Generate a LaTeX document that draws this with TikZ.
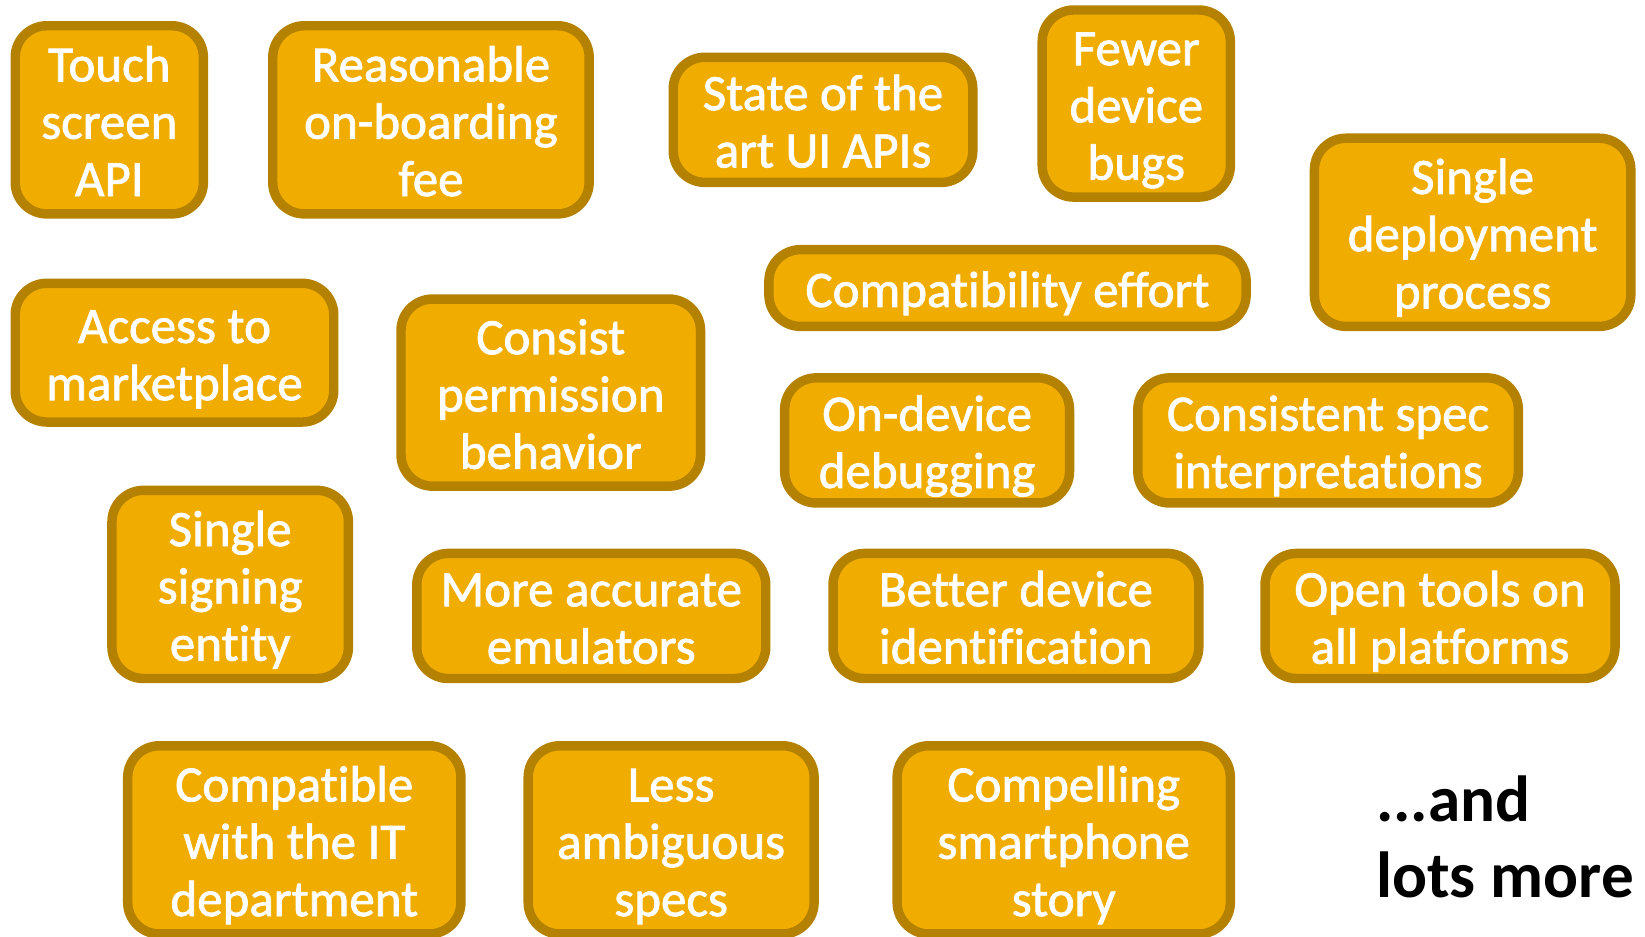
\documentclass[tikz,border=0pt]{standalone}
\usepackage{fontspec}
\setmainfont{Carlito}[Ligatures=NoCommon]
\newfontfamily\boxfont{Carlito}[Ligatures=NoCommon, FakeBold=1.5]
\definecolor{fillc}{RGB}{240,173,0}
\definecolor{bordc}{RGB}{180,130,0}
\newcommand\bt[1]{\rule{0pt}{49pt}#1\rule[-13pt]{0pt}{0pt}}
\tikzset{
  box/.style={draw=bordc, fill=fillc, line width=9pt, rounded corners=30pt,
    inner sep=0pt, align=center, text=white,
    font=\boxfont\fontsize{48.5}{54.5}\selectfont},
  moretext/.style={anchor=west, align=left, inner sep=0pt, text=black,
    font=\fontsize{62}{72}\selectfont\bfseries}
}
\begin{document}
\begin{tikzpicture}[x=1pt,y=-1pt]
\useasboundingbox (0,0) rectangle (1565,891);
\node[box, minimum width=179pt, minimum height=179pt] (touch) at (104,114) {\bt{Touch\\screen\\API}};
\node[box, minimum width=301pt, minimum height=179pt] (reason) at (410,114) {\bt{Reasonable\\on-boarding\\fee}};
\node[box, minimum width=285pt, minimum height=119pt] (state) at (783,114) {\bt{State of the\\art UI APIs}};
\node[box, minimum width=179pt, minimum height=178pt] (fewer) at (1081,98.5) {\bt{Fewer\\device\\bugs}};
\node[box, minimum width=301pt, minimum height=179pt] (deploy) at (1401,221) {\bt{Single\\deployment\\process}};
\node[box, minimum width=454pt, minimum height=73pt] (compat) at (958.5,274) {\bt{Compatibility effort}};
\node[box, minimum width=303pt, minimum height=132pt] (access) at (166,335.5) {\bt{Access to\\marketplace}};
\node[box, minimum width=285pt, minimum height=178pt] (consist) at (524,373.5) {\bt{Consist\\permission\\behavior}};
\node[box, minimum width=271pt, minimum height=119pt] (ondevice) at (882,419) {\bt{On-device\\debugging}};
\node[box, minimum width=362pt, minimum height=119pt] (spec) at (1263.5,419) {\bt{Consistent spec\\interpretations}};
\node[box, minimum width=225pt, minimum height=179pt] (signing) at (219,556) {\bt{Single\\signing\\entity}};
\node[box, minimum width=332pt, minimum height=119pt] (emul) at (562.5,586) {\bt{More accurate\\emulators}};
\node[box, minimum width=348pt, minimum height=119pt] (better) at (966.5,586) {\bt{Better device\\identification}};
\node[box, minimum width=333pt, minimum height=119pt] (open) at (1370,586) {\bt{Open tools on\\all platforms}};
\node[box, minimum width=317pt, minimum height=179pt] (itdept) at (280,799) {\bt{Compatible\\with the IT\\department}};
\node[box, minimum width=272pt, minimum height=179pt] (less) at (638.5,799) {\bt{Less\\ambiguous\\specs}};
\node[box, minimum width=317pt, minimum height=179pt] (story) at (1012,799) {\bt{Compelling\\smartphone\\story}};
\node[moretext] (more) at (1309,796) {...and\\lots more};
\end{tikzpicture}
\end{document}
